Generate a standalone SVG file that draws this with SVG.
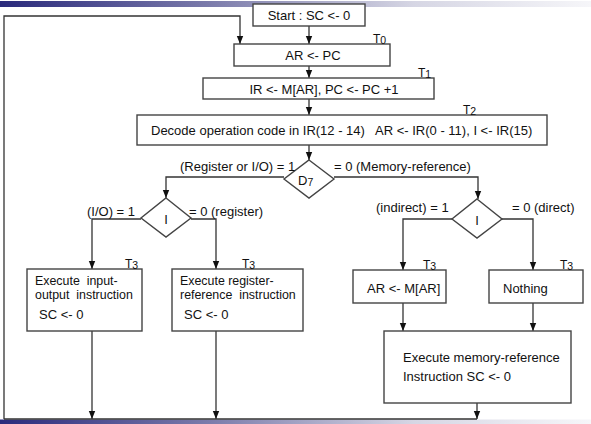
<svg xmlns="http://www.w3.org/2000/svg" width="591" height="424" viewBox="0 0 591 424">
<defs>
<linearGradient id="bar" x1="0" y1="0" x2="1" y2="0">
<stop offset="0" stop-color="#2a2a7c"/>
<stop offset="0.35" stop-color="#7a7aaa"/>
<stop offset="0.7" stop-color="#d6d6e4"/>
<stop offset="1" stop-color="#f6f6f9"/>
</linearGradient>
<marker id="ah" markerUnits="userSpaceOnUse" markerWidth="8" markerHeight="8" refX="8" refY="4" orient="auto" viewBox="0 0 8 8">
<path d="M0,0.8 L8,4 L0,7.2 Z" fill="#111"/>
</marker>
</defs>
<style>
.box{fill:#fff;stroke:#444;stroke-width:1.4}
.ln{fill:none;stroke:#333;stroke-width:1.3}
.ar{fill:none;stroke:#333;stroke-width:1.3;marker-end:url(#ah)}
text{font-family:"Liberation Sans",Arial,sans-serif;font-size:13px;fill:#111}
.t{font-size:12px}
.sub{font-size:10.5px}
.tight{font-size:12.4px}
</style>
<rect x="0" y="1" width="591" height="6" fill="url(#bar)"/>
<rect x="0" y="419.5" width="591" height="4.5" fill="url(#bar)"/>

<g id="connectors">
<path class="ar" d="M4,419 L4,16 L240,16 L240,44"/>
<path class="ar" d="M309,26 L309,44"/>
<path class="ar" d="M309,66 L309,78"/>
<path class="ar" d="M309,99 L309,115"/>
<path class="ar" d="M309,145 L309,160"/>
<path class="ar" d="M284,177 L166,177 L166,198"/>
<path class="ar" d="M334,177 L478,177 L478,199"/>
<path class="ar" d="M141,219 L92,219 L92,269"/>
<path class="ar" d="M191,219 L216,219 L216,269"/>
<path class="ar" d="M452,219 L403,219 L403,270"/>
<path class="ar" d="M502,219 L533,219 L533,270"/>
<path class="ar" d="M403,303 L403,331"/>
<path class="ar" d="M533,303 L533,331"/>
<path class="ar" d="M92,331 L92,419"/>
<path class="ar" d="M216,331 L216,419"/>
<path class="ar" d="M477,403 L477,419"/>
<path class="ln" d="M4,419 L477,419"/>
</g>

<g id="start">
<rect class="box" x="253" y="4" width="112" height="22"/>
<text x="309" y="20" text-anchor="middle">Start : SC &lt;- 0</text>
</g>
<g id="ar-pc">
<rect class="box" x="234" y="44" width="156" height="22"/>
<text x="313" y="60" text-anchor="middle">AR &lt;- PC</text>
<text class="t" x="373" y="43">T<tspan class="sub" dy="1">0</tspan></text>
</g>
<g id="ir">
<rect class="box" x="203" y="78" width="231" height="21"/>
<text x="324" y="94" text-anchor="middle">IR &lt;- M[AR], PC &lt;- PC +1</text>
<text class="t" x="418" y="77">T<tspan class="sub" dy="1">1</tspan></text>
</g>
<g id="decode">
<rect class="box" x="137" y="115" width="410" height="30"/>
<text x="151" y="135" xml:space="preserve">Decode operation code in IR(12 - 14)   AR &lt;- IR(0 - 11), I &lt;- IR(15)</text>
<text class="t" x="463" y="114">T<tspan class="sub" dy="1">2</tspan></text>
</g>
<g id="d7">
<path class="box" d="M309,160 L334,179 L309,198 L284,179 Z"/>
<text x="298" y="185">D<tspan class="sub" dy="1">7</tspan></text>
<text x="180" y="171">(Register or I/O) = 1</text>
<text x="334" y="171">= 0 (Memory-reference)</text>
</g>
<g id="i-left">
<path class="box" d="M166,198 L191,218 L166,237 L141,218 Z"/>
<text x="166" y="224" text-anchor="middle">I</text>
<text x="87" y="216">(I/O) = 1</text>
<text x="189" y="216">= 0 (register)</text>
</g>
<g id="i-right">
<path class="box" d="M477,199 L502,219 L477,238 L452,219 Z"/>
<text x="477" y="225" text-anchor="middle">I</text>
<text x="376" y="212">(indirect) = 1</text>
<text x="512" y="212">= 0 (direct)</text>
</g>
<g id="io">
<rect class="box" x="27" y="269" width="115" height="62"/>
<text class="tight" x="35" y="285" xml:space="preserve">Execute  input-</text>
<text class="tight" x="35" y="299" xml:space="preserve">output  instruction</text>
<text x="39" y="319">SC &lt;- 0</text>
<text class="t" x="125" y="268">T<tspan class="sub" dy="1">3</tspan></text>
</g>
<g id="reg">
<rect class="box" x="172" y="269" width="131" height="62"/>
<text class="tight" x="180" y="285">Execute register-</text>
<text class="tight" x="180" y="299" xml:space="preserve">reference  instruction</text>
<text x="184" y="319">SC &lt;- 0</text>
<text class="t" x="242" y="268">T<tspan class="sub" dy="1">3</tspan></text>
</g>
<g id="indirect">
<rect class="box" x="353" y="270" width="93" height="33"/>
<text x="367" y="293">AR &lt;- M[AR]</text>
<text class="t" x="423" y="269">T<tspan class="sub" dy="1">3</tspan></text>
</g>
<g id="nothing">
<rect class="box" x="489" y="270" width="94" height="33"/>
<text x="503" y="293">Nothing</text>
<text class="t" x="560" y="269">T<tspan class="sub" dy="1">3</tspan></text>
</g>
<g id="memref">
<rect class="box" x="384" y="331" width="187" height="72"/>
<text x="403" y="362">Execute memory-reference</text>
<text x="403" y="381">Instruction SC &lt;- 0</text>
</g>
</svg>
